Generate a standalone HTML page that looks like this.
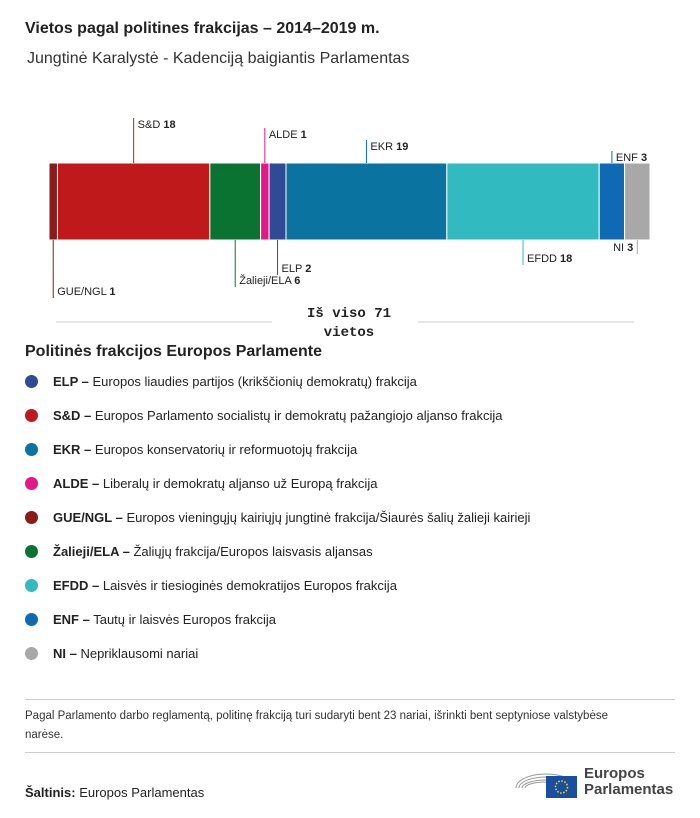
<!DOCTYPE html>
<html><head><meta charset="utf-8">
<style>
body{margin:0;width:700px;height:818px;background:#fff;font-family:"Liberation Sans",sans-serif;color:#222;position:relative;overflow:hidden}
.abs{position:absolute;white-space:nowrap}
.leg{position:absolute;left:25px;font-size:13px;color:#222;white-space:nowrap;width:660px;height:16px}
.leg .dot{position:absolute;left:0;top:1px;width:13px;height:13px;border-radius:50%}
.leg span.t{position:absolute;left:28px;top:0;white-space:nowrap}
</style></head><body>
<div class="abs" style="left:25px;top:20px;font-size:16px;font-weight:bold">Vietos pagal politines frakcijas – 2014–2019 m.</div>
<div class="abs" style="left:27px;top:50px;font-size:16px;color:#333">Jungtinė Karalystė - Kadenciją baigiantis Parlamentas</div>
<svg id="chart" width="700" height="345" style="position:absolute;left:0;top:0"></svg>
<div class="abs" style="left:25px;top:343px;font-size:16px;font-weight:bold">Politinės frakcijos Europos Parlamente</div>
<div id="legend"></div>
<div class="abs" style="left:25px;top:699px;width:650px;height:1px;background:#ccc"></div>
<div class="abs" style="left:25px;top:707px;font-size:11.5px;line-height:19px;color:#333;white-space:normal;width:610px">Pagal Parlamento darbo reglamentą, politinę frakciją turi sudaryti bent 23 nariai, išrinkti bent septyniose valstybėse narėse.</div>
<div class="abs" style="left:25px;top:752px;width:650px;height:1px;background:#ccc"></div>
<div class="abs" style="left:25px;top:785px;font-size:13px"><b>Šaltinis:</b> Europos Parlamentas</div>
<div style="position:absolute;left:514px;top:762px;width:170px;height:40px">
<svg width="66" height="38" style="position:absolute;left:0;top:0"><g fill="none" stroke="#999" stroke-width="1"><path d="M2 26 A30 14 0 0 1 62 26"/><path d="M5 26 A27 11 0 0 1 59 26"/><path d="M8 26 A24 8 0 0 1 56 26"/><path d="M11 26 A21 6 0 0 1 53 26"/></g><rect x="32" y="14" width="31" height="22" fill="#1a4fa0"/><circle cx="47.5" cy="25" r="6" fill="none" stroke="#ffdd00" stroke-width="1.5" stroke-dasharray="1.5 1.6"/></svg>
<div style="position:absolute;left:70px;top:4px;font-size:15px;line-height:16px;color:#444;font-weight:bold">Europos<br>Parlamentas</div></div>
<script>
const groups=["GUE/NGL","S&D","Žalieji/ELA","ALDE","ELP","EKR","EFDD","ENF","NI"];
const seats=[1,18,6,1,2,19,18,3,3];
const colors=["#8b1a1a","#c0191b","#0b7332","#e2178a","#2e4b94","#0a73a0","#31bbc0","#0d6ab3","#a8a8a8"];
const labelSide=["b","t","b","t","b","t","b","t","b"];
const labelLen=[58,45,47,35,35,23,25,12,14];
const ns="http://www.w3.org/2000/svg";
const svg=document.getElementById('chart');
const total=seats.reduce((a,b)=>a+b,0);
const x0=49,x1=650,yTop=163,yBot=240;
const xs=v=>x0+(x1-x0)*v/total;
function mk(t,a){const e=document.createElementNS(ns,t);for(const k in a)e.setAttribute(k,a[k]);svg.appendChild(e);return e;}
let cum=0;
seats.forEach((s,i)=>{
 const a=xs(cum),b=xs(cum+s);cum+=s;
 const r=mk('rect',{x:a,y:yTop,width:b-a,height:yBot-yTop,fill:colors[i],stroke:'#fff','stroke-width':1});
 
 
 const cx=(a+b)/2,L=labelLen[i];
 const top=labelSide[i]=="t";
 const y2=top?yTop-L:yBot+L;
 const ln=mk('line',{x1:cx,x2:cx,y1:top?yTop:yBot,y2:y2,stroke:colors[i],'stroke-width':1});
 
 
 const right=groups[i]=="NI";
 const tx=mk('text',{x:right?cx-4:cx+4,y:top?y2+10:y2-3,'font-size':11,fill:'#222','text-anchor':right?'end':'start'});
 
 
 tx.textContent=groups[i]+" ";
 const b2=document.createElementNS(ns,'tspan');b2.setAttribute('font-weight','bold');b2.textContent=s;tx.appendChild(b2);
});
const l1=mk('line',{x1:56,x2:272,y1:322,y2:322,stroke:'#ccc'});


const l2=mk('line',{x1:418,x2:634,y1:322,y2:322,stroke:'#ccc'});


const t1=mk('text',{x:349,y:317,'font-size':14,'font-weight':'bold','font-family':'Liberation Mono,monospace','text-anchor':'middle',fill:'#222'});


t1.textContent="Iš viso "+total;
const t2=mk('text',{x:349,y:336,'font-size':14,'font-weight':'bold','font-family':'Liberation Mono,monospace','text-anchor':'middle',fill:'#222'});


t2.textContent="vietos";
const legAbbr=["ELP","S&D","EKR","ALDE","GUE/NGL","Žalieji/ELA","EFDD","ENF","NI"];
const legText=["Europos liaudies partijos (krikščionių demokratų) frakcija","Europos Parlamento socialistų ir demokratų pažangiojo aljanso frakcija","Europos konservatorių ir reformuotojų frakcija","Liberalų ir demokratų aljanso už Europą frakcija","Europos vieningųjų kairiųjų jungtinė frakcija/Šiaurės šalių žalieji kairieji","Žaliųjų frakcija/Europos laisvasis aljansas","Laisvės ir tiesioginės demokratijos Europos frakcija","Tautų ir laisvės Europos frakcija","Nepriklausomi nariai"];
const leg=document.getElementById('legend');
legAbbr.forEach((g,i)=>{
 const d=document.createElement('div');d.className='leg';d.style.top=(374+i*34)+'px';
 
 
 const c=colors[groups.indexOf(g)];
 d.innerHTML='<div class="dot" style="background:'+c+'"></div><span class="t"><b>'+g.replace('&','&amp;')+' –</b> '+legText[i]+'</span>';
 leg.appendChild(d);
});
</script>
</body></html>
